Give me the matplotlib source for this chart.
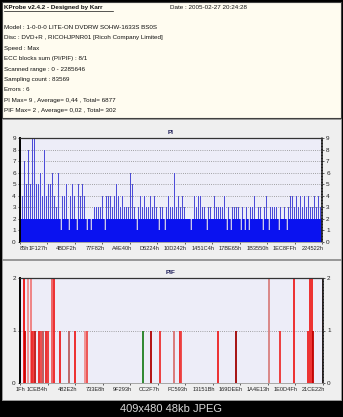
import numpy as np
import matplotlib
matplotlib.use('Agg')
import matplotlib.pyplot as plt
from matplotlib.patches import Rectangle
from matplotlib.transforms import ScaledTranslation

plt.rcParams['font.family'] = ['Liberation Sans', 'DejaVu Sans']

W, H = 343, 417

# info block
title = "KProbe v2.4.2 - Designed by Karr"
date_text = "Date : 2005-02-27 20:24:28"
info_lines = [
    "Model : 1-0-0-0 LITE-ON DVDRW SOHW-1633S BS0S",
    "Disc : DVD+R , RICOHJPNR01 [Ricoh Company Limited]",
    "Speed : Max",
    "ECC blocks sum (PI/PIF) : 8/1",
    "Scanned range : 0 - 2285646",
    "Sampling count : 83569",
    "Errors : 6",
    "PI Max= 9 , Average= 0,44 , Total= 6877",
    "PIF Max= 2 , Average= 0,02 , Total= 302",
]

# PI: peak value per column and columns where the floor drops to 1
pi_peak = [int(c) for c in
           "5475859955" "6484556436" "2445245425" "4542222333" "3424443454"
           "3433365323" "4343343432" "3323433634" "3432222434" "4332332433"
           "3342323333" "2323233423" "3234233332" "3232344343" "43434334343"]
pi_dips = [20, 24, 28, 33, 35, 42, 58, 69, 72, 85, 93, 103, 105, 110, 112,
           114, 121, 124, 129, 133]
pi_ticklabels = ["85h", "1F127h", "4BDF2h", "77F82h", "A4E40h", "D6224h",
                 "10D242h", "1451C4h", "17BE65h", "1B3550h", "1EC8FFh", "224522h"]

# PIF: sample position, value
pif_pos = [1.8, 2.7, 4.2, 5.3, 6.0, 6.7, 7.5, 9.7, 10.3, 11.7, 13.0, 14.2,
           16.0, 16.8, 19.8, 24.3, 27.5, 32.3, 33.3, 61.2, 65.5, 69.7, 76.7,
           79.5, 80.2, 98.7, 107.7, 124.2, 129.7, 136.7, 143.3, 144.7, 145.5,
           145.8, 150.8]
pif_val = [2, 1, 2, 2, 1, 1, 1, 1, 1, 1, 1, 1,
           2, 2, 1, 1, 1, 1, 1, 1, 1, 1, 1,
           1, 1, 1, 1, 2, 1, 2, 1, 2, 2,
           1, 2]
pif_colors = ['#ee1010', '#d00000', '#f08c8c', '#f07c7c', '#ee2020', '#ee3030',
              '#c01010', '#ee2020', '#ee4040', '#b85050', '#ee2020', '#ee3030',
              '#f05a5a', '#ee2020', '#ee2020', '#b86060', '#ee2020', '#f08c8c',
              '#ee4848', '#208020', '#b00000', '#ee3030', '#d87070', '#ee2020',
              '#ee4040', '#ee2020', '#a00000', '#d88080', '#ee3030', '#ee2020',
              '#ee2020', '#ee2020', '#ee2020', '#c00000', '#500000']
pif_ticklabels = ["1Fh", "1CEB4h", "482E2h", "733E8h", "9F293h", "CC2F7h",
                  "FC593h", "13151Bh", "169DEEh", "1A4E13h", "1E0D4Fh", "21CE22h"]

fig = plt.figure(figsize=(W / 100, H / 100), dpi=100, facecolor='black')

# background panels in pixel coordinates
bg = fig.add_axes([0, 0, 1, 1])
bg.set_xlim(0, W)
bg.set_ylim(H, 0)
bg.axis('off')
bg.add_patch(Rectangle((2, 2), 339, 116, fc='#fffcf0', ec='#404040', lw=0.8))
bg.add_patch(Rectangle((2, 118.5), 339, 140, fc='#efefef', ec='#9a9a9a', lw=0.7))
bg.add_patch(Rectangle((2, 259.5), 339, 140, fc='#efefef', ec='#9a9a9a', lw=0.7))

txt_kw = dict(fontsize=4.5, color='#111111', va='center')
bg.text(4, 7.5, title, fontweight='bold', **txt_kw)
bg.plot([4, 113], [11.3, 11.3], color='#111111', lw=0.5)
bg.text(170, 7.5, date_text, **txt_kw)
for i, line in enumerate(info_lines):
    bg.text(4, 27.5 + i * 10.4, line, **txt_kw)

bg.text(171, 133, "PI", fontsize=4.6, fontweight='bold', color='#20205a', ha='center', va='center')
bg.text(171, 272, "PIF", fontsize=4.6, fontweight='bold', color='#20205a', ha='center', va='center')
bg.text(171, 409, "409x480 48kb JPEG", fontsize=8, color='#d8d8d8', ha='center', va='center')


def style_axes(ax, ymax, labels, first_ha):
    ax.set_facecolor('#ededf8')
    ax.set_ylim(0, ymax)
    ax.set_xlim(0, 151)
    ax.set_yticks(range(ymax + 1))
    ax.yaxis.grid(True, linestyle=(0, (1, 1.6)), color='#888888', lw=0.6)
    ax.set_axisbelow(True)
    ax.tick_params(axis='y', labelsize=4.6, length=1.5, width=0.5, pad=1.5,
                   labelright=True, right=True, colors='#222222')
    ax.set_xticks(np.linspace(0, 151, 12))
    ax.set_xticklabels(labels)
    ax.tick_params(axis='x', labelsize=4.1, length=1.5, width=0.5, pad=1.5,
                   colors='#222222')
    shift = ScaledTranslation(2 / 100, 0, fig.dpi_scale_trans)
    for i, lab in enumerate(ax.get_xticklabels()):
        if i == 0:
            lab.set_ha(first_ha)
        else:
            lab.set_ha('right')
            if i > 1:
                lab.set_transform(lab.get_transform() + shift)
    ax.spines['left'].set_color('black')
    ax.spines['left'].set_linewidth(1.4)
    ax.spines['right'].set_color('#222222')
    ax.spines['right'].set_linewidth(1.2)
    ax.spines['right'].set_linestyle((0, (1, 0.8)))
    ax.spines['top'].set_color('#333333')
    ax.spines['top'].set_linewidth(0.9)
    ax.spines['top'].set_linestyle((0, (1, 1)))
    ax.spines['bottom'].set_color('#999999')
    ax.spines['bottom'].set_linewidth(0.6)


# PI chart
ax1 = fig.add_axes([20 / W, 1 - 242 / H, 302 / W, 104 / H])
cols = np.arange(len(pi_peak))
pi_floor = np.full(len(pi_peak), 2)
pi_floor[pi_dips] = 1
ax1.bar(cols + 0.1, pi_peak, width=0.6, align='edge', color='#4c4cd8', lw=0)
ax1.bar(cols, pi_floor, width=1.0, align='edge', color='#0a12f0', lw=0)
ax1.bar(np.array(pi_dips) + 0.55, np.ones(len(pi_dips)), width=0.45, align='edge',
        bottom=1, color='#c8c8f4', lw=0)
style_axes(ax1, 9, pi_ticklabels, 'left')

# PIF chart
ax2 = fig.add_axes([20 / W, 1 - 383 / H, 303 / W, 105 / H])
ax2.vlines(pif_pos, 0, pif_val, colors=pif_colors, lw=1.3)
style_axes(ax2, 2, pif_ticklabels, 'center')

fig.savefig('out.png', dpi=100, facecolor='black')
